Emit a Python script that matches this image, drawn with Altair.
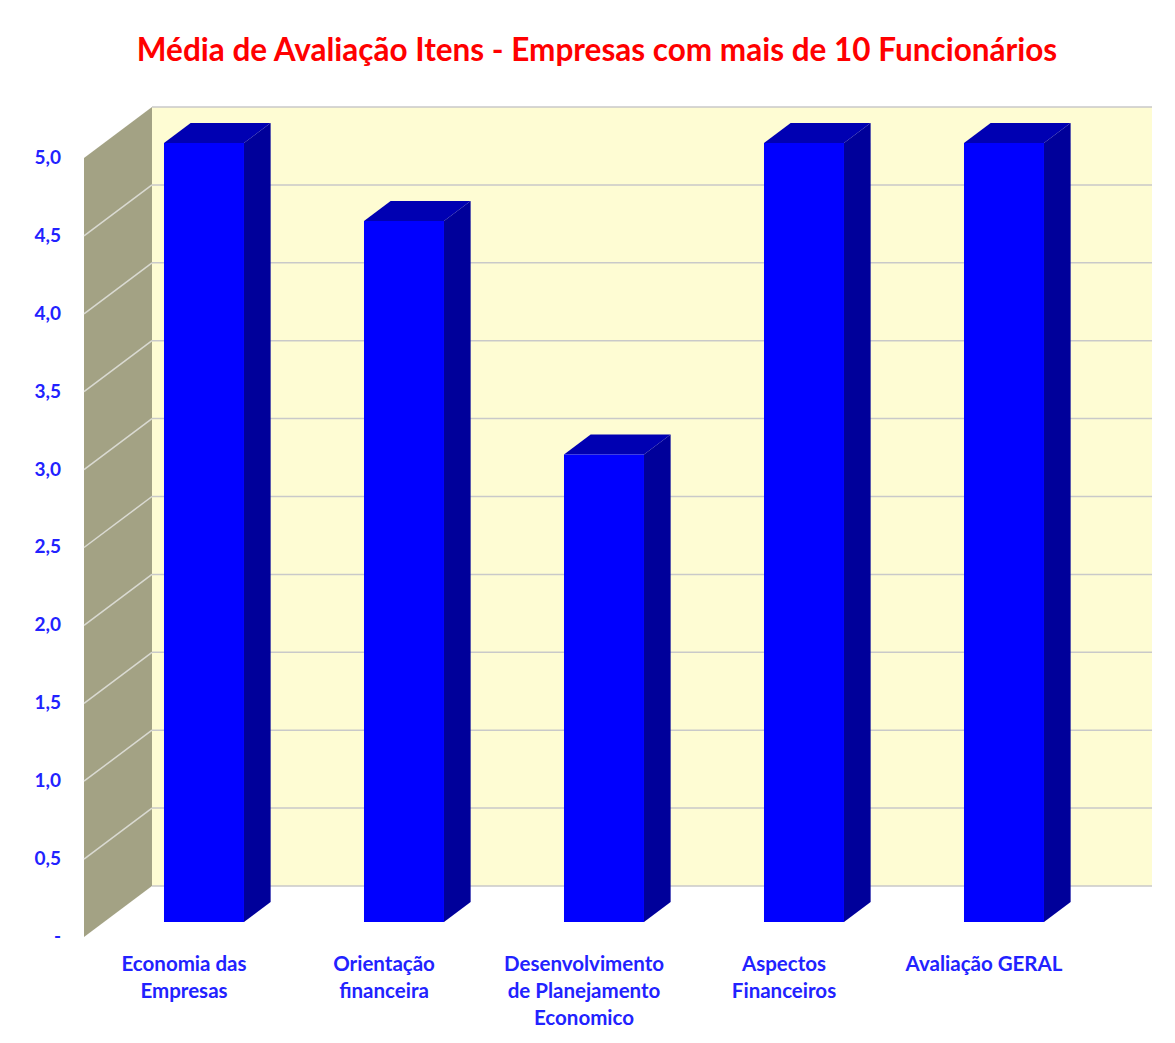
import altair as alt
import pandas as pd

# ---- data ----
categories = [
    "Economia das\nEmpresas",
    "Orientação\nfinanceira",
    "Desenvolvimento\nde Planejamento\nEconomico",
    "Aspectos\nFinanceiros",
    "Avaliação GERAL",
]
values = [5.0, 4.5, 3.0, 5.0, 5.0]
y_ticks = [0.0, 0.5, 1.0, 1.5, 2.0, 2.5, 3.0, 3.5, 4.0, 4.5, 5.0]
side_grid = [0.5, 1.0, 1.5, 2.0, 2.5, 3.0, 3.5, 4.0, 4.5]
title_text = "Média de Avaliação Itens - Empresas com mais de 10 Funcionários"

# ---- 3D projection parameters (style) ----
DX = 0.34      # horizontal shift of full depth, in category units
DY = 0.3273    # vertical shift of full depth, in value units
D0, D1 = 0.294, 0.686   # bar depth range
HALF = 0.2     # half bar width
XMIN, XMAX, VMAX = -0.5, 4.5, 5.0

BLUE_TXT = "#2222FF"
FRONT = "#0000FF"
SIDE = "#00009A"
TOP = "#0000B2"
WALL = "#FEFCD3"
SIDEWALL = "#A3A284"
FONT = "Lato"

bars = pd.DataFrame({"cat": categories, "idx": list(range(len(categories))), "val": values})
grid = pd.DataFrame({"v": y_ticks})
sgrid = pd.DataFrame({"v": side_grid})
wall = pd.DataFrame({"lo": [0.0], "hi": [VMAX]})

xs = alt.Scale(domain=[XMIN, XMAX + DX], nice=False, zero=False)
ys = alt.Scale(domain=[0, VMAX + DY], nice=False, zero=False)

back_wall = alt.Chart(wall).transform_calculate(
    x1=f"{XMIN}+{DX}", x2=f"{XMAX}+{DX}",
    y1=f"datum.lo+{DY}", y2=f"datum.hi+{DY}",
).mark_rect(color=WALL).encode(
    x=alt.X("x1:Q", scale=xs, axis=None), x2="x2:Q",
    y=alt.Y("y1:Q", scale=ys, axis=None), y2="y2:Q",
)

back_grid = alt.Chart(grid).transform_calculate(
    x1=f"{XMIN}+{DX}", x2=f"{XMAX}+{DX}", yv=f"datum.v+{DY}",
).mark_rule(color="#C9C9C9", strokeWidth=1.5).encode(
    x=alt.X("x1:Q", scale=xs, axis=None), x2="x2:Q",
    y=alt.Y("yv:Q", scale=ys, axis=None),
)

side_wall = alt.Chart(wall).transform_calculate(
    d="[0, 1]"
).transform_flatten(["d"]).transform_calculate(
    xx=f"{XMIN}+{DX}*datum.d", y1=f"datum.lo+{DY}*datum.d", y2=f"datum.hi+{DY}*datum.d",
).mark_area(color=SIDEWALL, orient="vertical").encode(
    x=alt.X("xx:Q", scale=xs, axis=None),
    y=alt.Y("y1:Q", scale=ys, axis=None), y2="y2:Q",
)

side_lines = alt.Chart(sgrid).transform_calculate(
    x1=f"{XMIN}", x2=f"{XMIN}+{DX}", y1="datum.v", y2=f"datum.v+{DY}",
).mark_rule(color="#DADAD2", strokeWidth=1.5).encode(
    x=alt.X("x1:Q", scale=xs, axis=None), x2="x2:Q",
    y=alt.Y("y1:Q", scale=ys, axis=None), y2="y2:Q",
)

bar_side = alt.Chart(bars).transform_calculate(
    d=f"[{D0}, {D1}]"
).transform_flatten(["d"]).transform_calculate(
    xx=f"datum.idx+{HALF}+{DX}*datum.d", y1=f"{DY}*datum.d", y2=f"datum.val+{DY}*datum.d",
).mark_area(color=SIDE, orient="vertical").encode(
    x=alt.X("xx:Q", scale=xs, axis=None),
    y=alt.Y("y1:Q", scale=ys, axis=None), y2="y2:Q",
    detail="cat:N",
)

bar_top = alt.Chart(bars).transform_calculate(
    d=f"[{D0}, {D1}]"
).transform_flatten(["d"]).transform_calculate(
    yy=f"datum.val+{DY}*datum.d",
    x1=f"datum.idx-{HALF}+{DX}*datum.d", x2=f"datum.idx+{HALF}+{DX}*datum.d",
).mark_area(color=TOP, orient="horizontal").encode(
    y=alt.Y("yy:Q", scale=ys, axis=None),
    x=alt.X("x1:Q", scale=xs, axis=None), x2="x2:Q",
    detail="cat:N",
)

bar_front = alt.Chart(bars).transform_calculate(
    x1=f"datum.idx-{HALF}+{DX}*{D0}", x2=f"datum.idx+{HALF}+{DX}*{D0}",
    y1=f"{DY}*{D0}", y2=f"datum.val+{DY}*{D0}",
).mark_rect(color=FRONT).encode(
    x=alt.X("x1:Q", scale=xs, axis=None), x2="x2:Q",
    y=alt.Y("y1:Q", scale=ys, axis=None), y2="y2:Q",
)

y_labels = alt.Chart(grid).transform_calculate(
    x0=f"{XMIN}",
    lab="datum.v == 0 ? '-' : replace(format(datum.v, '.1f'), '.', ',')",
).mark_text(
    align="right", baseline="middle", dx=-23,
    font=FONT, fontSize=19, fontWeight="bold", color=BLUE_TXT,
).encode(
    x=alt.X("x0:Q", scale=xs, axis=None),
    y=alt.Y("v:Q", scale=ys, axis=None),
    text="lab:N",
)

cat_labels = alt.Chart(bars).transform_calculate(y0="0").mark_text(
    lineBreak="\n", baseline="top", align="center", dy=18, lineHeight=27,
    font=FONT, fontSize=20.5, fontWeight="bold", color=BLUE_TXT,
).encode(
    x=alt.X("idx:Q", scale=xs, axis=None),
    y=alt.Y("y0:Q", scale=ys, axis=None),
    text="cat:N",
)

chart = alt.layer(
    back_wall, back_grid, side_wall, side_lines, bar_side, bar_top, bar_front,
    y_labels, cat_labels
).properties(
    width=1068, height=830,
    autosize=alt.AutoSizeParams(type="none"),
    padding={"left": 76, "top": 99, "right": 15, "bottom": 100},
    title=alt.Title(
        title_text, font=FONT, fontSize=31.5, fontWeight="bold", color="#FF0000",
        anchor="middle", baseline="alphabetic", offset=14, dx=-21,
    ),
).configure(
    background="white",
    view=alt.ViewConfig(stroke="transparent", strokeWidth=0),
)

chart.save("out.html", embed_options={"renderer": "svg", "actions": False})
